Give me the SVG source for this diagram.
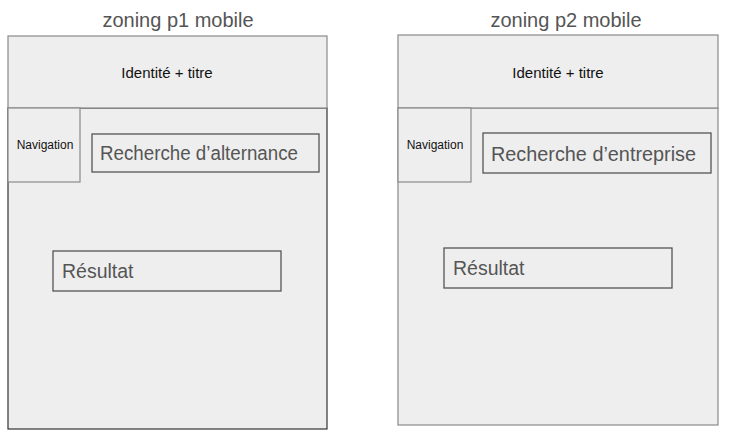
<svg xmlns="http://www.w3.org/2000/svg" width="735" height="434" viewBox="0 0 735 434">
  <style>
    .zone { fill: #eeeeee; stroke: #8a8a8a; stroke-width: 1.2; }
    .dark { stroke: #333333; }
    .field { fill: #eeeeee; stroke: #555555; stroke-width: 1.3; }
    .title { font-family: "Liberation Sans", Arial, sans-serif; font-size: 20px; fill: #555555; text-anchor: middle; }
    .head { font-family: "Liberation Sans", Arial, sans-serif; font-size: 15px; fill: #111111; text-anchor: middle; }
    .nav { font-family: "Liberation Sans", Arial, sans-serif; font-size: 12px; fill: #111111; text-anchor: middle; }
    .lbl { font-family: "Liberation Sans", Arial, sans-serif; font-size: 19.5px; fill: #555555; }
  </style>
  <rect width="735" height="434" fill="#ffffff"/>

  <!-- page 1 -->
  <g id="p1">
    <text class="title" x="178" y="27">zoning p1 mobile</text>
    <g id="p1-body"><rect class="zone dark" x="8" y="108" width="319" height="321"/></g>
    <g id="p1-header">
      <rect class="zone" x="8" y="36" width="319" height="72"/>
      <text class="head" x="167" y="78">Identité + titre</text>
    </g>
    <g id="p1-nav">
      <rect class="zone" x="8" y="108" width="72" height="74"/>
      <text class="nav" x="45" y="149">Navigation</text>
    </g>
    <g id="p1-search">
      <rect class="field" x="92" y="134" width="227" height="38"/>
      <text class="lbl" x="100" y="160" textLength="198" lengthAdjust="spacingAndGlyphs">Recherche d’alternance</text>
    </g>
    <g id="p1-result">
      <rect class="field" x="53" y="251" width="228" height="40"/>
      <text class="lbl" x="62" y="278">Résultat</text>
    </g>
  </g>

  <!-- page 2 -->
  <g id="p2">
    <text class="title" x="566" y="27">zoning p2 mobile</text>
    <g id="p2-body"><rect class="zone" x="398" y="108" width="320" height="317"/></g>
    <g id="p2-header">
      <rect class="zone" x="398" y="35" width="320" height="73"/>
      <text class="head" x="558" y="78">Identité + titre</text>
    </g>
    <g id="p2-nav">
      <rect class="zone" x="398" y="108" width="73" height="74"/>
      <text class="nav" x="435" y="149">Navigation</text>
    </g>
    <g id="p2-search">
      <rect class="field" x="483" y="133" width="228" height="40"/>
      <text class="lbl" x="491" y="161" textLength="205" lengthAdjust="spacingAndGlyphs">Recherche d’entreprise</text>
    </g>
    <g id="p2-result">
      <rect class="field" x="444" y="248" width="228" height="40"/>
      <text class="lbl" x="453" y="275">Résultat</text>
    </g>
  </g>
</svg>
